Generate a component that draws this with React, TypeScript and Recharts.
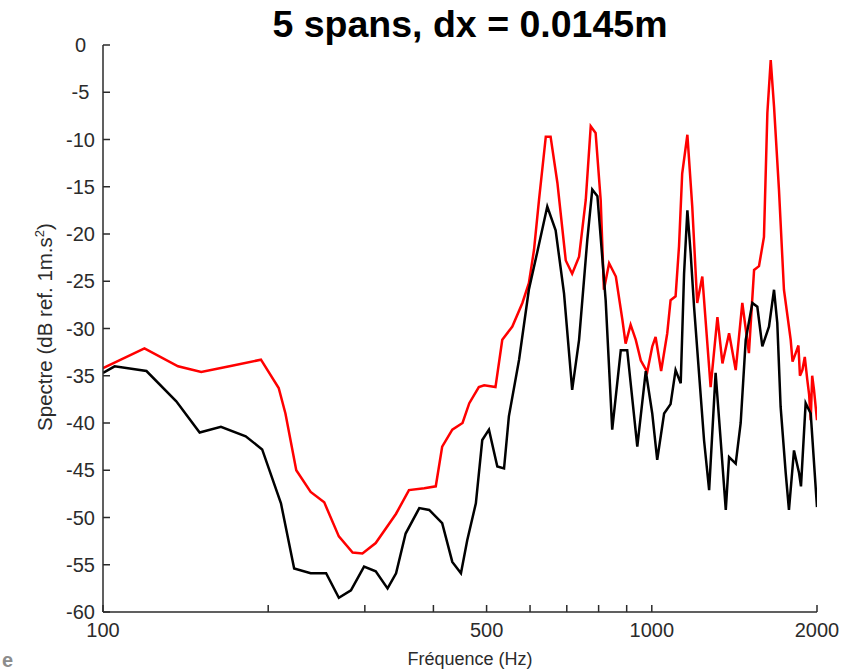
import { LineChart, Line, XAxis, YAxis } from 'recharts';

// red trace (frequency in Hz, level in dB)
const redFreq = [
  100, 119, 137, 151, 170, 194, 209, 215, 225, 239, 253, 269, 285, 297, 314, 342, 361, 385, 404,
  415, 433, 452, 465, 484, 495, 519, 534, 557, 581, 597, 610, 623, 641, 654, 673, 697, 716, 737,
  758, 774, 790, 807, 818, 836, 860, 884, 896, 915, 935, 955, 981, 1002, 1016, 1040, 1067, 1082,
  1105, 1121, 1136, 1161, 1185, 1210, 1236, 1280, 1317, 1345, 1383, 1422, 1462, 1503, 1536, 1568,
  1601, 1624, 1647, 1670, 1705, 1741, 1791, 1805, 1829, 1850, 1862, 1881, 1900, 1920, 1935, 1948,
  1960, 1975, 2000,
];
const redLevel = [
  -34.2, -32.1, -34.0, -34.6, -34.0, -33.3, -36.3, -39.0, -45.0, -47.3, -48.4, -52.0, -53.7, -53.8,
  -52.7, -49.6, -47.1, -46.9, -46.7, -42.5, -40.7, -40.0, -37.9, -36.2, -36.0, -36.2, -31.2, -29.8,
  -27.3, -25.2, -21.7, -16.4, -9.7, -9.7, -14.6, -22.8, -24.2, -22.4, -16.4, -8.6, -9.3, -16.4,
  -25.9, -23.1, -24.5, -29.1, -31.6, -29.6, -31.2, -33.4, -34.6, -31.9, -30.9, -34.5, -30.5, -27.0,
  -26.6, -21.3, -13.6, -9.5, -17.1, -27.3, -24.5, -36.2, -28.8, -33.7, -30.5, -34.4, -27.3, -32.6,
  -23.8, -23.4, -20.3, -7.2, -1.6, -6.5, -15.3, -25.9, -31.2, -33.5, -32.6, -31.8, -35.0, -34.4,
  -33.0, -35.4, -37.0, -39.7, -35.0, -36.5, -39.7,
];

// black trace
const blackFreq = [
  100, 105, 120, 136, 150, 164, 182, 195, 211, 223, 239, 255, 269, 283, 299, 314, 330, 342, 356,
  377, 393, 415, 433, 449, 461, 478, 491, 505, 523, 538, 549, 573, 597, 618, 645, 668, 692, 716,
  737, 763, 779, 796, 824, 847, 878, 902, 941, 975, 1002, 1023, 1053, 1082, 1105, 1129, 1145, 1161,
  1177, 1194, 1219, 1245, 1272, 1307, 1335, 1364, 1383, 1422, 1452, 1483, 1525, 1557, 1590, 1635,
  1670, 1693, 1717, 1754, 1778, 1816, 1855, 1870, 1907, 1948, 2000,
];
const blackLevel = [
  -34.7, -34.0, -34.5, -37.7, -41.0, -40.4, -41.4, -42.8, -48.5, -55.4, -55.9, -55.9, -58.5, -57.7,
  -55.2, -55.7, -57.5, -55.9, -51.7, -49.0, -49.2, -50.6, -54.7, -55.9, -52.4, -48.5, -41.8, -40.7,
  -44.6, -44.8, -39.3, -33.3, -25.9, -22.0, -17.1, -19.6, -26.3, -36.5, -31.2, -20.6, -15.3, -16.0,
  -27.0, -40.7, -32.3, -32.3, -42.5, -34.5, -39.0, -43.9, -39.0, -38.0, -34.4, -35.8, -24.2, -17.5,
  -22.0, -27.7, -34.7, -41.8, -47.1, -34.7, -41.8, -49.2, -43.6, -44.3, -40.0, -31.2, -27.3, -27.7,
  -31.9, -29.8, -25.9, -29.4, -38.3, -45.3, -49.2, -42.9, -45.3, -46.7, -37.9, -39.0, -48.9,
];

const xTicks = [100, 200, 300, 400, 500, 600, 700, 800, 900, 1000, 2000];
const xTickLabels = [100, 500, 1000, 2000];
const yTicks = [-60, -55, -50, -45, -40, -35, -30, -25, -20, -15, -10, -5, 0];

const toRows = (f: number[], v: number[]) => f.map((x, i) => ({ f: x, db: v[i] }));
const redData = toRows(redFreq, redLevel);
const blackData = toRows(blackFreq, blackLevel);

const FONT = '"Liberation Sans", Arial, sans-serif';
const AXIS = '#2b2b2b';

const XTick = ({ x, y, payload }: any) =>
  xTickLabels.includes(payload.value) ? (
    <text x={x} y={y} textAnchor="middle" fontSize={20} fontFamily={FONT} fill={AXIS}>
      {payload.value}
    </text>
  ) : (
    <g />
  );

const YTick = ({ x, y, payload }: any) => (
  <text x={x} y={y + 7} textAnchor="middle" fontSize={20} fontFamily={FONT} fill={AXIS}>
    {payload.value}
  </text>
);

export default function App() {
  const line = { stroke: AXIS, strokeWidth: 1.5 };
  return (
    <div style={{ position: 'absolute', left: 0, top: 0, width: 857, height: 671, background: '#fff' }}>
      <LineChart width={857} height={671} margin={{ top: 45, right: 40, bottom: 29, left: 43 }}>
        <XAxis
          xAxisId="b"
          dataKey="f"
          type="number"
          scale="log"
          domain={[100, 2000]}
          allowDataOverflow
          ticks={xTicks}
          interval={0}
          height={30}
          tickSize={-7}
          tickMargin={32}
          tick={XTick}
          axisLine={line}
          tickLine={line}
        />
        <XAxis
          xAxisId="t"
          orientation="top"
          dataKey="f"
          type="number"
          scale="log"
          domain={[100, 2000]}
          allowDataOverflow
          ticks={xTicks}
          interval={0}
          height={0}
          tickSize={-6}
          tick={false}
          axisLine={line}
          tickLine={line}
        />
        <YAxis
          yAxisId="l"
          type="number"
          domain={[-60, 0]}
          ticks={yTicks}
          interval={0}
          width={60}
          tickSize={-7}
          tickMargin={29.5}
          tick={YTick}
          axisLine={line}
          tickLine={line}
        />
        <YAxis
          yAxisId="r"
          orientation="right"
          type="number"
          domain={[-60, 0]}
          ticks={yTicks}
          interval={0}
          width={0}
          tickSize={-7}
          tick={false}
          axisLine={line}
          tickLine={line}
        />
        <Line
          xAxisId="b"
          yAxisId="l"
          data={redData}
          dataKey="db"
          type="linear"
          stroke="#ff0000"
          strokeWidth={2.5}
          dot={false}
          isAnimationActive={false}
        />
        <Line
          xAxisId="b"
          yAxisId="l"
          data={blackData}
          dataKey="db"
          type="linear"
          stroke="#000000"
          strokeWidth={2.5}
          dot={false}
          isAnimationActive={false}
        />
      </LineChart>
      <svg
        width={857}
        height={671}
        style={{ position: 'absolute', left: 0, top: 0, pointerEvents: 'none' }}
        fontFamily={FONT}
      >
        <text x={470} y={37} textAnchor="middle" fontSize={37.5} fontWeight="bold" fill="#000">
          5 spans, dx = 0.0145m
        </text>
        <text x={470} y={665} textAnchor="middle" fontSize={18} fill={AXIS}>
          Fréquence (Hz)
        </text>
        <text transform="translate(52,327) rotate(-90)" textAnchor="middle" fontSize={20.5} fill={AXIS}>
          Spectre (dB ref. 1m.s
          <tspan dy={-8} fontSize={13}>
            2
          </tspan>
          <tspan dy={8}>)</tspan>
        </text>
        <text x={2} y={667} fontSize={20} fontWeight="bold" fill="#8c8c8c">
          e
        </text>
      </svg>
    </div>
  );
}
